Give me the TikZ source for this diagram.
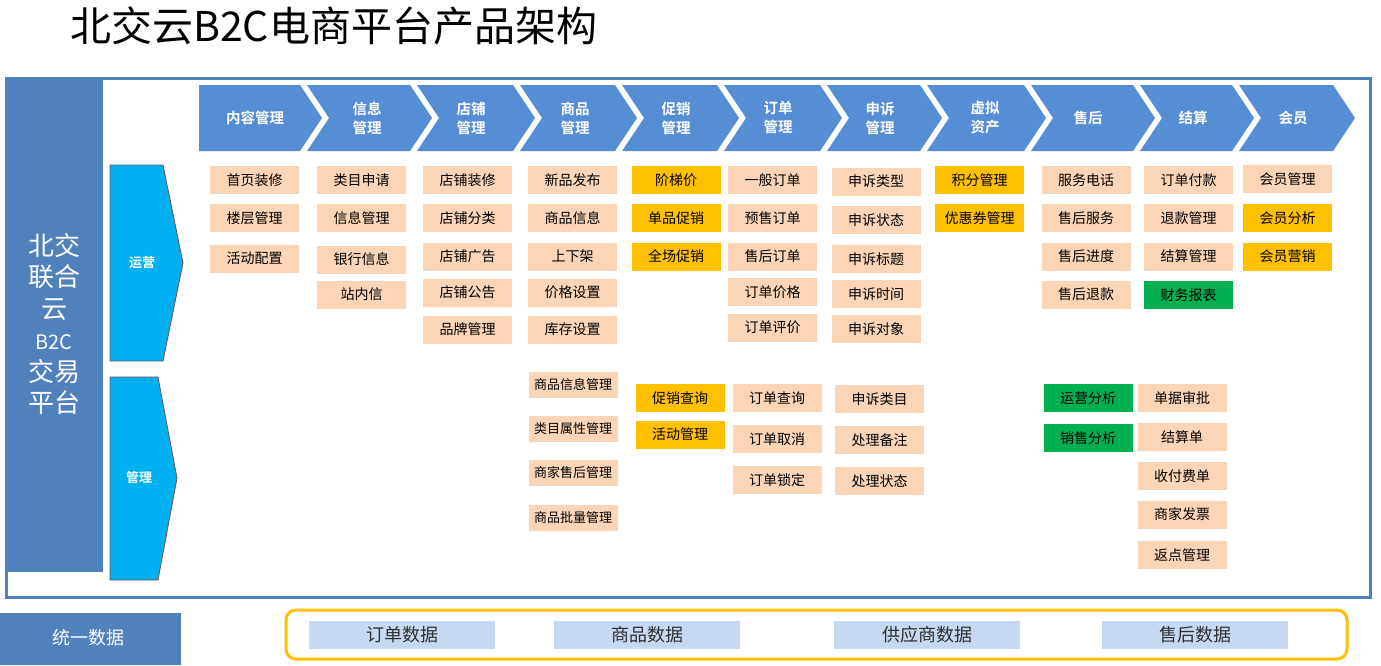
\documentclass[tikz,border=0pt]{standalone}
\usepackage{fontspec}
\setmainfont{Noto Sans CJK SC}[BoldFont={Noto Sans CJK SC Bold}]
\definecolor{panelblue}{HTML}{4F81BD}
\definecolor{chevblue}{HTML}{558ED5}
\definecolor{peach}{HTML}{FBD5B5}
\definecolor{ygold}{HTML}{FFC000}
\definecolor{ggreen}{HTML}{00B050}
\definecolor{cyanarrow}{HTML}{00B0F0}
\definecolor{arrowedge}{HTML}{7F4A4A}
\definecolor{databox}{HTML}{C6D9F1}
\definecolor{datatext}{HTML}{303030}
\tikzset{
  item/.style={fill=peach, minimum width=89pt, minimum height=28pt, inner sep=0pt, font=\fontsize{14}{14}\selectfont},
  itemsm/.style={item, minimum height=26pt, font=\fontsize{13}{13}\selectfont},
  yitem/.style={item, fill=ygold},
  gitem/.style={item, fill=ggreen},
  chev/.style={fill=chevblue},
  chevlabel/.style={text=white, font=\bfseries\fontsize{14.5}{19}\selectfont, align=center, inner sep=0pt},
  sidearrow/.style={fill=cyanarrow, draw=arrowedge, line width=0.8pt},
  sidelabel/.style={text=white, font=\bfseries\fontsize{13}{13}\selectfont, inner sep=0pt},
  dbox/.style={fill=databox, minimum width=186pt, minimum height=28pt, inner sep=0pt, text=datatext, font=\fontsize{18}{18}\selectfont},
}
\begin{document}
\begin{tikzpicture}[x=1pt,y=-1pt]
\useasboundingbox (0,0) rectangle (1381,665);
% title
\node[anchor=west, inner sep=0pt, font=\fontsize{41}{41}\selectfont] (title) at (70,26) {北交云B2C电商平台产品架构};
% outer frame
\draw[panelblue, line width=3pt] (6,78) rectangle (1370,597);
% left panel
\fill[panelblue] (5,77) rectangle (103,572);
\node[text=white, align=center, inner sep=0pt, font=\fontsize{26}{31.4}\selectfont] (plat) at (54,324) {北交\\联合\\云\\{\fontsize{20}{31.4}\selectfont B2C}\\交易\\平台};
% chevrons
\def\ct{85}\def\cb{151}\def\cm{118}\def\cd{22}
\fill[chev] (199,\ct) -- (300,\ct) -- (322,\cm) -- (300,\cb) -- (199,\cb) -- cycle;
\foreach \p/\t in {322/432,432/535,535/637,637/739,739/842,842/942,942/1046,1046/1155,1155/1254,1254/1355}{
  \fill[chev] ({\p-15},\ct) -- ({\t-\cd},\ct) -- (\t,\cm) -- ({\t-\cd},\cb) -- ({\p-15},\cb) -- ({\p+7},\cm) -- cycle;
}
\node[chevlabel] (h1) at (255,118) {内容管理};
\node[chevlabel] (h2) at (367,118) {信息\\管理};
\node[chevlabel] (h3) at (471,118) {店铺\\管理};
\node[chevlabel] (h4) at (575,118) {商品\\管理};
\node[chevlabel] (h5) at (676,118) {促销\\管理};
\node[chevlabel] (h6) at (778,118) {订单\\管理};
\node[chevlabel] (h7) at (880,118) {申诉\\管理};
\node[chevlabel] (h8) at (985,118) {虚拟\\资产};
\node[chevlabel] (h9) at (1088,118) {售后};
\node[chevlabel] (h10) at (1193,118) {结算};
\node[chevlabel] (h11) at (1293,118) {会员};
% side arrows
\draw[sidearrow] (110,165) -- (163,165) -- (183,263) -- (163,361) -- (110,361) -- cycle;
\node[sidelabel] (yy) at (142,263) {运营};
\draw[sidearrow] (110,377) -- (158,377) -- (177,478) -- (158,580) -- (110,580) -- cycle;
\node[sidelabel] (gl) at (139,478) {管理};
% column 1
\node[item] (a1) at (254.5,180) {首页装修};
\node[item] (a2) at (254.5,218) {楼层管理};
\node[item] (a3) at (254.5,258.5) {活动配置};
% column 2
\node[item] (b1) at (361.5,180) {类目申请};
\node[item] (b2) at (361.5,218) {信息管理};
\node[item] (b3) at (361.5,259.5) {银行信息};
\node[item] (b4) at (361.5,294.5) {站内信};
% column 3
\node[item] (c1) at (467.5,180) {店铺装修};
\node[item] (c2) at (467.5,218) {店铺分类};
\node[item] (c3) at (467.5,256.5) {店铺广告};
\node[item] (c4) at (467.5,292.5) {店铺公告};
\node[item] (c5) at (467.5,329.5) {品牌管理};
% column 4
\node[item] (d1) at (572.5,180) {新品发布};
\node[item] (d2) at (572.5,218) {商品信息};
\node[item] (d3) at (572.5,256.5) {上下架};
\node[item] (d4) at (572.5,292.5) {价格设置};
\node[item] (d5) at (572.5,329.5) {库存设置};
\node[itemsm] (d6) at (573,385) {商品信息管理};
\node[itemsm] (d7) at (573,429) {类目属性管理};
\node[itemsm] (d8) at (573,473) {商家售后管理};
\node[itemsm] (d9) at (573,518) {商品批量管理};
% column 5
\node[yitem] (e1) at (676,180) {阶梯价};
\node[yitem] (e2) at (676,218) {单品促销};
\node[yitem] (e3) at (676,256.5) {全场促销};
\node[yitem] (e4) at (680,398) {促销查询};
\node[yitem] (e5) at (680,434.5) {活动管理};
% column 6
\node[item] (f1) at (772.5,180) {一般订单};
\node[item] (f2) at (772.5,218) {预售订单};
\node[item] (f3) at (772.5,256.5) {售后订单};
\node[item] (f4) at (772.5,292) {订单价格};
\node[item] (f5) at (772.5,327.5) {订单评价};
\node[item] (f6) at (777,398) {订单查询};
\node[item] (f7) at (777,439) {订单取消};
\node[item] (f8) at (777,480) {订单锁定};
% column 7
\node[item] (g1) at (876,181.5) {申诉类型};
\node[item] (g2) at (876,220) {申诉状态};
\node[item] (g3) at (876,259) {申诉标题};
\node[item] (g4) at (876,294) {申诉时间};
\node[item] (g5) at (876,329) {申诉对象};
\node[item] (g6) at (879.5,399) {申诉类目};
\node[item] (g7) at (879.5,440) {处理备注};
\node[item] (g8) at (879.5,481) {处理状态};
% column 8
\node[yitem] (k1) at (979.5,180) {积分管理};
\node[yitem] (k2) at (979.5,218) {优惠券管理};
% column 9
\node[item] (m1) at (1086,180) {服务电话};
\node[item] (m2) at (1086,218) {售后服务};
\node[item] (m3) at (1086,256.5) {售后进度};
\node[item] (m4) at (1086,294.5) {售后退款};
\node[gitem] (m5) at (1088,398) {运营分析};
\node[gitem] (m6) at (1088,438) {销售分析};
% column 10
\node[item] (n1) at (1188.5,180) {订单付款};
\node[item] (n2) at (1188.5,218) {退款管理};
\node[item] (n3) at (1188.5,256.5) {结算管理};
\node[gitem] (n4) at (1188.5,295) {财务报表};
\node[item] (n5) at (1182,398) {单据审批};
\node[item] (n6) at (1182,437) {结算单};
\node[item] (n7) at (1182,476) {收付费单};
\node[item] (n8) at (1182,514.5) {商家发票};
\node[item] (n9) at (1182,555) {返点管理};
% column 11
\node[item] (p1) at (1287.5,179) {会员管理};
\node[yitem] (p2) at (1287.5,218) {会员分析};
\node[yitem] (p3) at (1287.5,256.5) {会员营销};
% bottom
\fill[panelblue] (0,613) rectangle (181,665);
\node[text=white, inner sep=0pt, font=\fontsize{18}{18}\selectfont] (tysj) at (88,638) {统一数据};
\draw[ygold, line width=3pt, rounded corners=10pt] (286,610) rectangle (1347,659);
\node[dbox] (s1) at (402,634.5) {订单数据};
\node[dbox] (s2) at (647,634.5) {商品数据};
\node[dbox] (s3) at (927,634.5) {供应商数据};
\node[dbox] (s4) at (1195,634.5) {售后数据};
\end{tikzpicture}
\end{document}
